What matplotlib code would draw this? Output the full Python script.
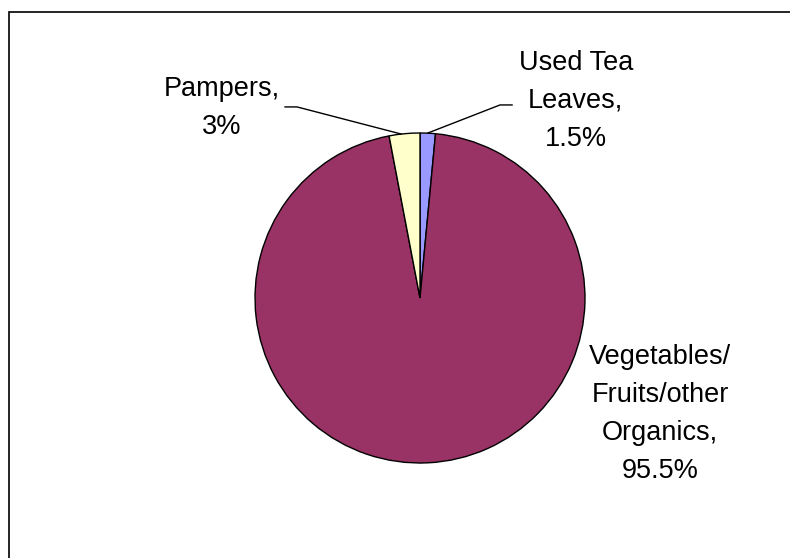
import matplotlib.pyplot as plt
from matplotlib.patches import Rectangle

plt.rcParams['font.family'] = ['Liberation Sans', 'DejaVu Sans']

# data (clockwise from 12 o'clock)
labels = ['Used Tea\nLeaves,\n1.5%', 'Vegetables/\nFruits/other\nOrganics,\n95.5%', 'Pampers,\n3%']
values = [1.5, 95.5, 3]
colors = ['#9999FF', '#993366', '#FFFFCC']

fig = plt.figure(figsize=(7.9, 5.58), dpi=100)
ax = fig.add_axes([255 / 790, 95 / 558, 330 / 790, 330 / 558])

wedges, _ = ax.pie(values, colors=colors, startangle=90, counterclock=False,
                   wedgeprops=dict(edgecolor='black', linewidth=1.0), radius=1.0)
ax.set_xlim(-1, 1)
ax.set_ylim(-1, 1)
ax.set_aspect('equal')

# labels
fs = 19.5
ls = 1.59
ax.text(0.945, 1.194, labels[0], ha='center', va='center', fontsize=fs, linespacing=ls)
ax.text(1.455, -0.703, labels[1], ha='center', va='center', fontsize=fs, linespacing=ls)
ax.text(-1.2, 1.15, labels[2], ha='center', va='center', fontsize=fs, linespacing=ls)

# leader lines
ax.plot([0.558, 0.485, 0.048], [1.17, 1.17, 1.0], color='black', lw=1, clip_on=False)
ax.plot([-0.818, -0.745, -0.115], [1.158, 1.158, 0.994], color='black', lw=1, clip_on=False)

# chart area frame
fig.patches.append(Rectangle((9 / 790, -0.1), 1.5, (558 - 12) / 558 + 0.1,
                             transform=fig.transFigure, fill=False,
                             edgecolor='black', lw=1.2))

plt.savefig('out.png', dpi=100)
